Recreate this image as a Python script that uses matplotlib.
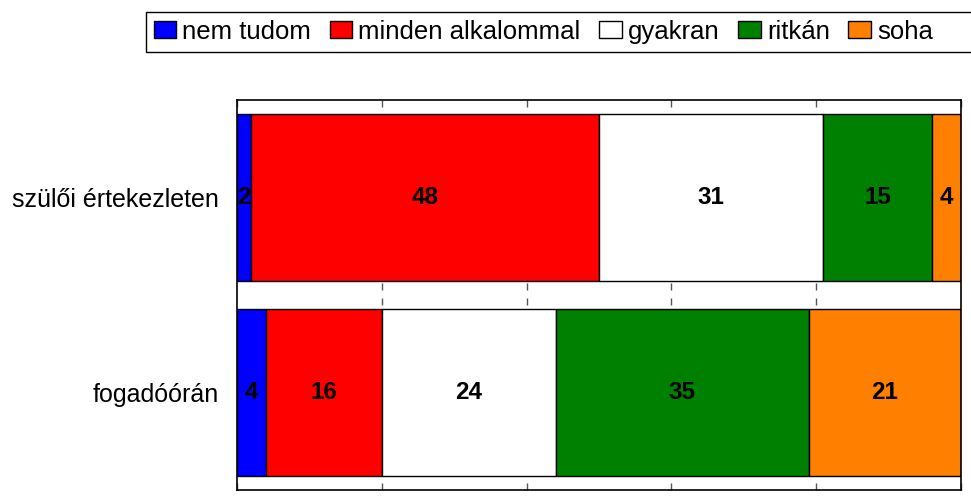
import numpy as np
import matplotlib.pyplot as plt
from matplotlib.patches import Rectangle

plt.rcParams['font.family'] = ['Liberation Sans', 'DejaVu Sans']

categories = ['fogadóórán', 'szülői értekezleten']
series = ['nem tudom', 'minden alkalommal', 'gyakran', 'ritkán', 'soha']
colors = ['#0000ff', '#ff0000', '#ffffff', '#008000', '#ff8000']
values = {
    'nem tudom': [4, 2],
    'minden alkalommal': [16, 48],
    'gyakran': [24, 31],
    'ritkán': [35, 15],
    'soha': [21, 4],
}
xticks = [0, 20, 40, 60, 80, 100]

fig = plt.figure(figsize=(9.71, 5.01), dpi=100)
ax = fig.add_axes([237 / 971, 1 - 490 / 501, 724 / 971, 390 / 501])

y = np.arange(len(categories))
left = np.zeros(len(categories))
for name, col in zip(series, colors):
    vals = np.array(values[name], dtype=float)
    ax.barh(y, vals, left=left, height=0.856, color=col,
            edgecolor='black', linewidth=1, label=name)
    for bx, by, v in zip(left, y, vals):
        ax.text(bx + v / 2, by, str(int(v)), ha='center', va='center',
                fontsize=17.5, fontweight='bold', color='black')
    left += vals

ax.set_xlim(0, 100)
ax.set_ylim(-0.5, 1.5)
ax.set_xticks(xticks)
ax.set_xticklabels([])
ax.tick_params(axis='x', direction='in', length=5, width=1, color='#555555',
               top=True, bottom=True)
ax.set_yticks(y)
ax.set_yticklabels(categories, fontsize=18)
ax.tick_params(axis='y', length=0, pad=13)
for s in ax.spines.values():
    s.set_linewidth(1.2)
    s.set_color('black')

# inner tick marks in the gap between the two bars
inner = xticks[1:-1]
ax.vlines(inner, 0.526, 0.561, color='#555555', linewidth=1)
ax.vlines(inner, 0.449, 0.485, color='#555555', linewidth=1)

# legend box runs off the right edge in the original
fig.patches.append(Rectangle((146 / 971, 1 - 52 / 501), 840 / 971, 40 / 501,
                             transform=fig.transFigure, facecolor='white',
                             edgecolor='black', linewidth=1, zorder=0))
leg = fig.legend(loc='upper left', bbox_to_anchor=(146 / 971, 1 - 12 / 501),
                 ncol=5, fontsize=18.5, frameon=False, handlelength=0.88,
                 handleheight=0.62, handletextpad=0.23, columnspacing=0.73,
                 borderpad=0.3, borderaxespad=0)

fig.savefig('out.png', dpi=100)
